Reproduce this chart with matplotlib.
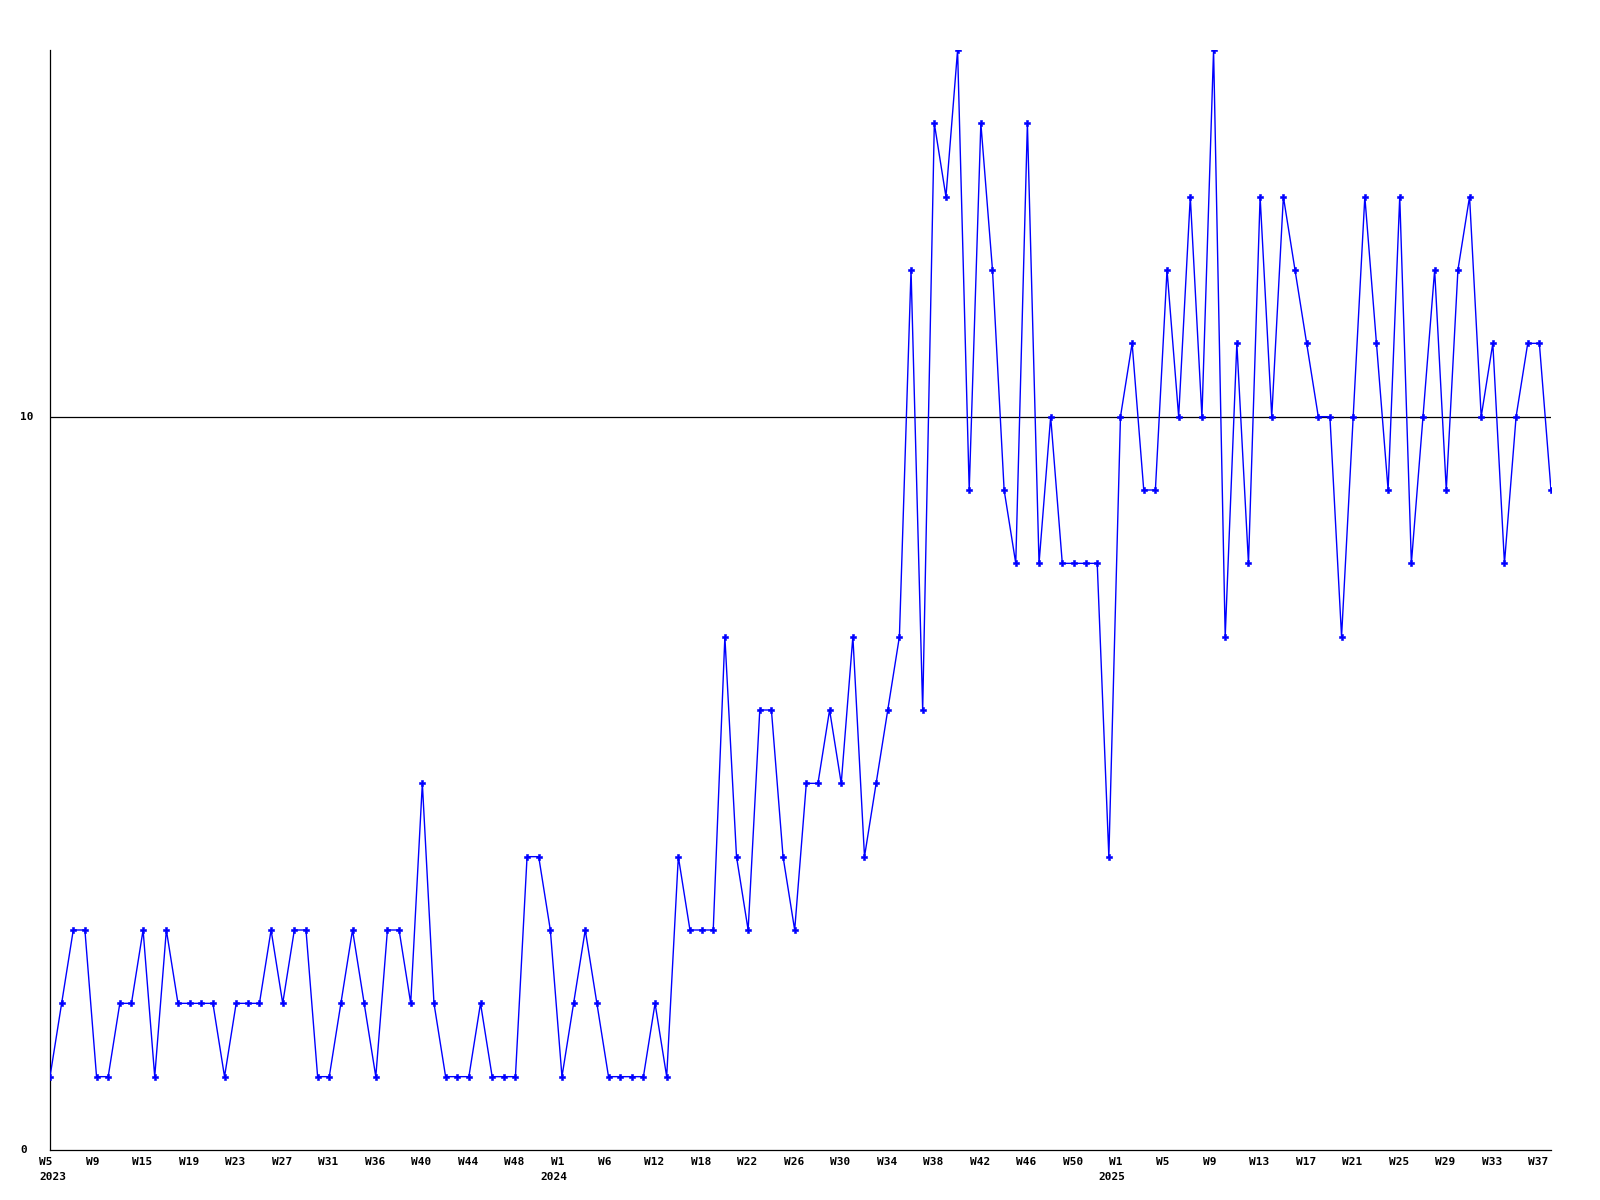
import matplotlib
matplotlib.use("Agg")
import matplotlib.pyplot as plt
from matplotlib.transforms import blended_transform_factory

# weekly values, 2023 W5 .. 2025 W38 (weeks with data only)
values = [1, 2, 3, 3, 1, 1, 2, 2, 3, 1, 3, 2, 2, 2, 2, 1, 2, 2, 2, 3,
          2, 3, 3, 1, 1, 2, 3, 2, 1, 3, 3, 2, 5, 2, 1, 1, 1, 2, 1, 1,
          1, 4, 4, 3, 1, 2, 3, 2, 1, 1, 1, 1, 2, 1, 4, 3, 3, 3, 7, 4,
          3, 6, 6, 4, 3, 5, 5, 6, 5, 7, 4, 5, 6, 7, 12, 6, 14, 13, 15, 9,
          14, 12, 9, 8, 14, 8, 10, 8, 8, 8, 8, 4, 10, 11, 9, 9, 12, 10, 13, 10,
          15, 7, 11, 8, 13, 10, 13, 12, 11, 10, 10, 7, 10, 13, 11, 9, 13, 8, 10, 12,
          9, 12, 13, 10, 11, 8, 10, 11, 11, 9]

tick_labels = ['W5', 'W9', 'W15', 'W19', 'W23', 'W27', 'W31', 'W36', 'W40', 'W44',
               'W48', 'W1', 'W6', 'W12', 'W18', 'W22', 'W26', 'W30', 'W34', 'W38',
               'W42', 'W46', 'W50', 'W1', 'W5', 'W9', 'W13', 'W17', 'W21', 'W25',
               'W29', 'W33', 'W37']
tick_step = 4
year_labels = ['2023', '2024', '2025']
year_positions = [0, 44, 92]
y_labels = ['0', '10']
y_label_values = [0, 10]
y_max = 15

FONT = dict(family='DejaVu Sans Mono', weight='bold', size=8)

fig = plt.figure(figsize=(16, 12), dpi=100)
fig.patch.set_facecolor('white')
ax = fig.add_axes([50 / 1600, 1 - 1150 / 1200, 1501 / 1600, 1100 / 1200])

x = list(range(len(values)))
ax.plot(x, values, color='#0000ff', linewidth=1.0, marker='P',
        markersize=4, markeredgewidth=0.4, zorder=3)
ax.axhline(10, color='black', linewidth=0.9, zorder=2)

ax.set_xlim(0, len(values) - 1)
ax.set_ylim(0, y_max)

for s in ['top', 'right']:
    ax.spines[s].set_visible(False)
for s in ['left', 'bottom']:
    ax.spines[s].set_linewidth(0.9)
    ax.spines[s].set_color('black')

ax.set_xticks([])
ax.set_yticks([])

# x tick labels
for k, lab in enumerate(tick_labels):
    ax.annotate(lab, xy=(k * tick_step, 0), xycoords=('data', 'axes fraction'),
                xytext=(-11, -12), textcoords='offset pixels',
                ha='left', va='center', **FONT)
for pos, lab in zip(year_positions, year_labels):
    dx = -11 if pos == 0 else -22
    ax.annotate(lab, xy=(pos, 0), xycoords=('data', 'axes fraction'),
                xytext=(dx, -27), textcoords='offset pixels',
                ha='left', va='center', **FONT)

# y labels (left aligned at fixed pixel column)
trans = blended_transform_factory(fig.transFigure, ax.transData)
for lab, v in zip(y_labels, y_label_values):
    ax.text(20 / 1600, v, lab, transform=trans, ha='left', va='center', **FONT)

fig.savefig('out.png', dpi=100, facecolor='white')
